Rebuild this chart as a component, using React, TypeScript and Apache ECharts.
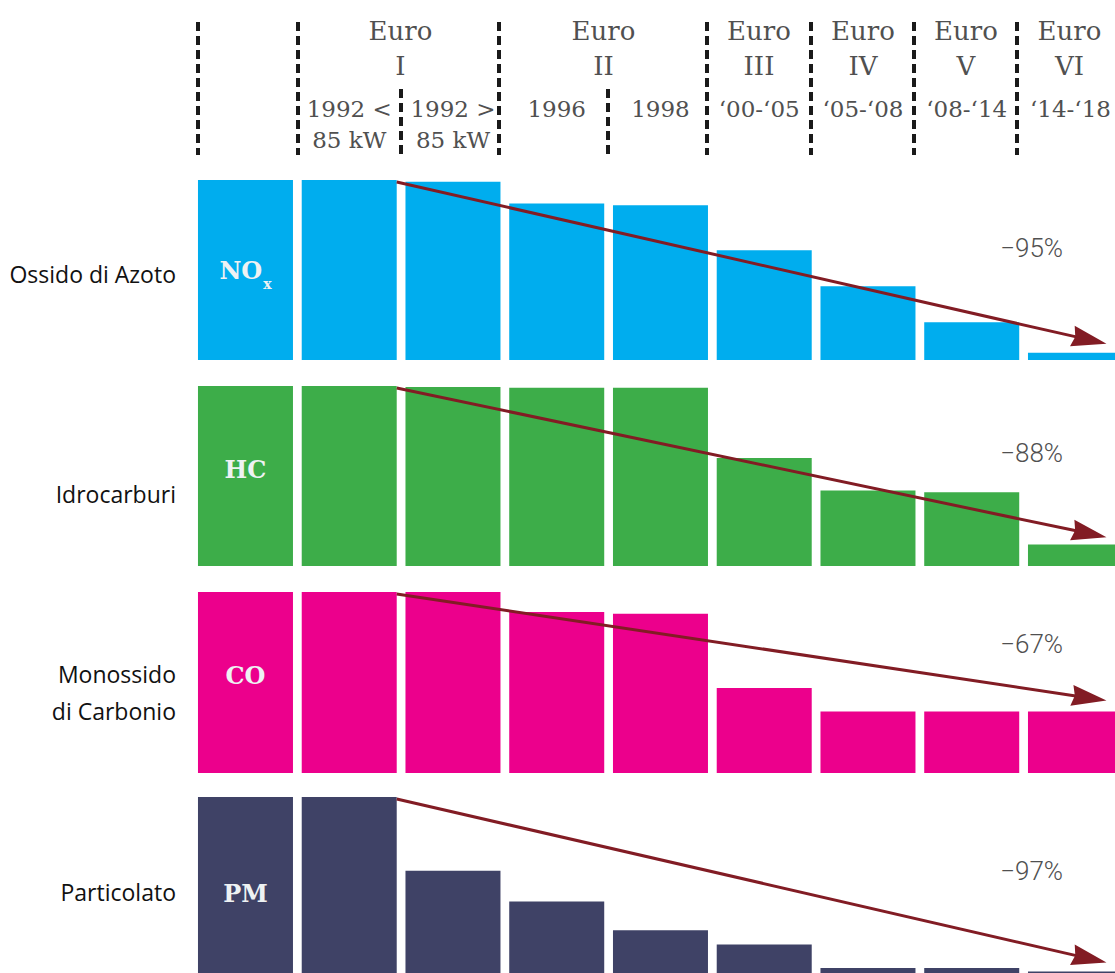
import React, { useEffect, useRef } from "react";
import * as echarts from "echarts";

// ---------- data ----------
const CATEGORIES = ["", "1992 <\n85 kW", "1992 >\n85 kW", "1996", "1998", "‘00-‘05", "‘05-‘08", "‘08-‘14", "‘14-‘18"];
const NOX = [100, 100, 99, 87, 86, 61, 41, 21, 4];
const HC = [100, 100, 99.5, 99, 99, 60, 42, 41, 12];
const CO = [100, 100, 100, 89, 88, 47, 34, 34, 34];
const PM = [100, 100, 59, 42, 26, 18, 5, 5, 3];
const SERIES_VALUES = [NOX, HC, CO, PM];
const POLLUTANT_CODES = ["NOx", "HC", "CO", "PM"];
const POLLUTANT_NAMES = ["Ossido di Azoto", "Idrocarburi", "Monossido\ndi Carbonio", "Particolato"];
const REDUCTIONS = ["−95%", "−88%", "−67%", "−97%"];
const ARROW_END_VALUE = [9, 16, 40, 8];
const REDUCTION_LABEL_VALUE = [62, 63, 71, 59];
const EURO_STAGES = ["I", "II", "III", "IV", "V", "VI"];

// ---------- layout / style ----------
const COLORS = ["#00adee", "#3dad49", "#ec008c", "#3f4266"];
const ARROW_COLOR = "#821c24";
const GRID_TOP = [180, 386, 592, 797];
const GRID_HEIGHT = [180, 180, 181, 180];
const GRID_LEFT = 193.6;
const GRID_WIDTH = 933.75;
const BAR_WIDTH = 95;
const LABEL_OFFSET = [0, -7, -7, 6];
const YEAR_LABEL_SHIFT = [0, 0, 0, 0, 0, 3, 4, 5, 6];
const NAME_Y = [274, 494, 692, 892];
const EURO_X = [400.5, 603.5, 759, 863, 966, 1069.5];
const SEP_FULL_X = [198, 298, 499, 707, 811, 914, 1017];
const SEP_SHORT_X = [401, 608];
const HEADER_FONT = "DejaVu Serif";
const HEADER_COLOR = "#505050";

export default function App() {
  const ref = useRef<HTMLDivElement>(null);

  useEffect(() => {
    if (!ref.current) return;
    const chart = echarts.init(ref.current, null, { renderer: "svg" });

    const grids = GRID_TOP.map((t, i) => ({
      left: GRID_LEFT,
      width: GRID_WIDTH,
      top: t,
      height: GRID_HEIGHT[i],
    }));

    const xAxes = GRID_TOP.map((_, i) => ({
      type: "category",
      gridIndex: i,
      data: CATEGORIES,
      position: "top",
      axisLine: { show: false },
      axisTick: { show: false },
      splitLine: { show: false },
      axisLabel: {
        show: i === 0,
        interval: 0,
        margin: 87,
        verticalAlign: "top",
        lineHeight: 31,
        fontFamily: HEADER_FONT,
        fontSize: 23,
        color: HEADER_COLOR,
        formatter: (value: string, index: number) =>
          YEAR_LABEL_SHIFT[index] ? `${value}{s|}` : value,
        rich: {
          s: { width: 10, fontSize: 23, lineHeight: 31 },
        },
      },
    }));

    const yAxes = GRID_TOP.map((_, i) => ({
      type: "value",
      gridIndex: i,
      min: 0,
      max: 100,
      show: false,
    }));

    const series = SERIES_VALUES.map((vals, i) => ({
      type: "bar",
      xAxisIndex: i,
      yAxisIndex: i,
      barWidth: BAR_WIDTH,
      itemStyle: { color: COLORS[i] },
      data: vals.map((v, j) =>
        j === 0
          ? {
              value: v,
              label: {
                show: true,
                position: "inside",
                offset: [0, LABEL_OFFSET[i]],
                formatter: POLLUTANT_CODES[i] === "NOx" ? "{a|NO}{b|x}" : "{a|" + POLLUTANT_CODES[i] + "}",
                rich: {
                  a: { fontFamily: HEADER_FONT, fontWeight: "bold", fontSize: 24, color: "#eef2f3", lineHeight: 30 },
                  b: {
                    fontFamily: HEADER_FONT,
                    fontWeight: "bold",
                    fontSize: 14,
                    color: "#eef2f3",
                    lineHeight: 14,
                    verticalAlign: "bottom",
                    padding: [0, 0, -6, 1],
                  },
                },
              },
            }
          : v
      ),
    }));

    chart.setOption({
      animation: false,
      grid: grids,
      xAxis: xAxes,
      yAxis: yAxes,
      series,
    });

    const graphics: any[] = [];

    // header separators
    SEP_FULL_X.forEach((x) =>
      graphics.push({
        type: "line",
        shape: { x1: x, y1: 22, x2: x, y2: 155 },
        style: { stroke: "#1a1a1a", lineWidth: 4, lineDash: [9, 5] },
      })
    );
    SEP_SHORT_X.forEach((x) =>
      graphics.push({
        type: "line",
        shape: { x1: x, y1: 89, x2: x, y2: 155 },
        style: { stroke: "#1a1a1a", lineWidth: 4, lineDash: [9, 5] },
      })
    );

    // Euro stage headers
    EURO_STAGES.forEach((s, k) => {
      graphics.push({
        type: "text",
        x: EURO_X[k],
        y: 31,
        style: {
          text: "Euro",
          font: `26px "${HEADER_FONT}"`,
          fill: HEADER_COLOR,
          align: "center",
          verticalAlign: "middle",
        },
      });
      graphics.push({
        type: "text",
        x: EURO_X[k],
        y: 66,
        style: {
          text: s,
          font: `26px "${HEADER_FONT}"`,
          fill: HEADER_COLOR,
          align: "center",
          verticalAlign: "middle",
        },
      });
    });

    // side names
    POLLUTANT_NAMES.forEach((n, i) => {
      graphics.push({
        type: "text",
        x: 176,
        y: NAME_Y[i],
        style: {
          text: n,
          font: `23px "Open Sans"`,
          fill: "#111111",
          align: "right",
          verticalAlign: "middle",
          lineHeight: 37,
        },
      });
    });

    // arrows and reduction labels
    SERIES_VALUES.forEach((vals, i) => {
      const p1 = chart.convertToPixel({ gridIndex: i }, [1, vals[1]]) as number[];
      const p8 = chart.convertToPixel({ gridIndex: i }, [8, ARROW_END_VALUE[i]]) as number[];
      const p7 = chart.convertToPixel({ gridIndex: i }, [7, 0]) as number[];
      const pl = chart.convertToPixel({ gridIndex: i }, [8, REDUCTION_LABEL_VALUE[i]]) as number[];
      const sx = p1[0] + BAR_WIDTH / 2;
      const sy = p1[1] + 2;
      const tx = p8[0] + 31;
      const ty = p8[1];
      const dx = tx - sx;
      const dy = ty - sy;
      const len = Math.sqrt(dx * dx + dy * dy);
      const ux = dx / len;
      const uy = dy / len;
      const headLen = 35;
      const headHalf = 10.5;
      const bx = tx - ux * headLen;
      const by = ty - uy * headLen;
      graphics.push({
        type: "line",
        z: 50,
        shape: { x1: sx, y1: sy, x2: bx + ux * 4, y2: by + uy * 4 },
        style: { stroke: ARROW_COLOR, lineWidth: 3 },
      });
      graphics.push({
        type: "polygon",
        z: 50,
        shape: {
          points: [
            [tx, ty],
            [bx - uy * headHalf, by + ux * headHalf],
            [bx + ux * 3, by + uy * 3],
            [bx + uy * headHalf, by - ux * headHalf],
          ],
        },
        style: { fill: ARROW_COLOR },
      });
      graphics.push({
        type: "text",
        z: 50,
        x: (p7[0] + p8[0]) / 2 + 8,
        y: pl[1],
        style: {
          text: REDUCTIONS[i],
          font: `300 26px Roboto`,
          fill: "#505050",
          align: "center",
          verticalAlign: "middle",
        },
      });
    });

    chart.setOption({ graphic: graphics });

    return () => chart.dispose();
  }, []);

  return (
    <div
      style={{
        position: "absolute",
        left: 0,
        top: 0,
        width: 1115,
        height: 973,
        overflow: "hidden",
        background: "#ffffff",
      }}
    >
      <div ref={ref} style={{ width: 1140, height: 985 }} />
    </div>
  );
}
